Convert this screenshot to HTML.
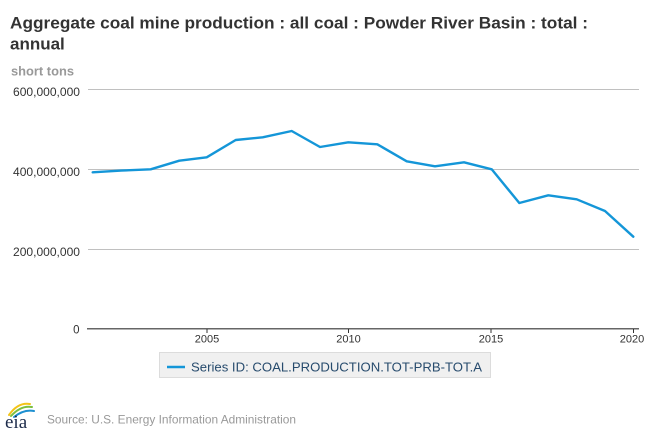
<!DOCTYPE html>
<html>
<head>
<meta charset="utf-8">
<style>
  html,body{margin:0;padding:0;background:#fff;}
  body{width:650px;height:433px;overflow:hidden;}
  svg{display:block;font-family:"Liberation Sans",Arial,sans-serif;}
</style>
</head>
<body>
<svg width="650" height="433" viewBox="0 0 650 433" xmlns="http://www.w3.org/2000/svg">
  <rect width="650" height="433" fill="#fff"/>
  <!-- Title -->
  <text x="10" y="28.3" font-size="17" font-weight="bold" fill="#333" textLength="578" lengthAdjust="spacingAndGlyphs">Aggregate coal mine production : all coal : Powder River Basin : total :</text>
  <text x="10" y="49.5" font-size="17" font-weight="bold" fill="#333">annual</text>
  <!-- Units -->
  <text x="11" y="75.7" font-size="12.5" font-weight="bold" fill="#999" textLength="63" lengthAdjust="spacingAndGlyphs">short tons</text>

  <!-- Grid lines -->
  <g stroke="#c0c0c0" stroke-width="1">
    <line x1="88" y1="89.5" x2="639" y2="89.5"/>
    <line x1="88" y1="169.5" x2="639" y2="169.5"/>
    <line x1="88" y1="249.5" x2="639" y2="249.5"/>
  </g>
  <!-- Axis -->
  <line x1="87" y1="328.8" x2="639" y2="328.8" stroke="#333" stroke-width="1.2"/>
  <g stroke="#333" stroke-width="1">
    <line x1="207" y1="329" x2="207" y2="333"/>
    <line x1="348.5" y1="329" x2="348.5" y2="333"/>
    <line x1="491" y1="329" x2="491" y2="333"/>
    <line x1="633.5" y1="329" x2="633.5" y2="333"/>
  </g>

  <!-- Y labels -->
  <g font-size="11.5" fill="#333" text-anchor="end">
    <text x="80" y="96" textLength="67" lengthAdjust="spacingAndGlyphs">600,000,000</text>
    <text x="80" y="176" textLength="67" lengthAdjust="spacingAndGlyphs">400,000,000</text>
    <text x="80" y="256" textLength="67" lengthAdjust="spacingAndGlyphs">200,000,000</text>
    <text x="79.5" y="333.5">0</text>
  </g>
  <!-- X labels -->
  <g font-size="11" fill="#333" text-anchor="middle">
    <text x="207" y="342.3">2005</text>
    <text x="348.5" y="342.3">2010</text>
    <text x="491" y="342.3">2015</text>
    <text x="632" y="342.3">2020</text>
  </g>

  <!-- Series -->
  <polyline fill="none" stroke="#1496d8" stroke-width="2.4" stroke-linejoin="round" stroke-linecap="round"
    points="92.7,172.3 121.2,170.6 150.7,169.3 179.3,160.7 206.7,157.3 235.7,140 262.7,137.3 291.7,131 320,147 348.3,142.3 377.3,144.3 406.7,161.3 435,166.3 464,162.3 491.7,169.3 519.3,203 548.3,195.3 576.7,199.3 605,211 633.3,236.7"/>

  <!-- Legend -->
  <rect x="159.5" y="352.5" width="331" height="25" fill="#f0f0f0" stroke="#dcdcdc" stroke-width="1"/>
  <line x1="167" y1="367" x2="185" y2="367" stroke="#1496d8" stroke-width="2.5"/>
  <text x="191" y="371.7" font-size="13" fill="#274b6d" textLength="291" lengthAdjust="spacingAndGlyphs">Series ID: COAL.PRODUCTION.TOT-PRB-TOT.A</text>

  <!-- EIA logo -->
  <g fill="none" stroke-width="2" stroke-linecap="round">
    <path d="M9,415 Q18,402 30,404" stroke="#f2c418"/>
    <path d="M11,416 Q21,405 32,407" stroke="#7cbf3f"/>
    <path d="M14,417 Q24,409 34,411" stroke="#1d8fd0"/>
  </g>
  <text x="5" y="428" font-family="'Liberation Serif',serif" font-size="19" fill="#1c2b4a">eia</text>
  <!-- Source -->
  <text x="47" y="423.5" font-size="12" fill="#999" textLength="249" lengthAdjust="spacingAndGlyphs">Source: U.S. Energy Information Administration</text>
</svg>
</body>
</html>
